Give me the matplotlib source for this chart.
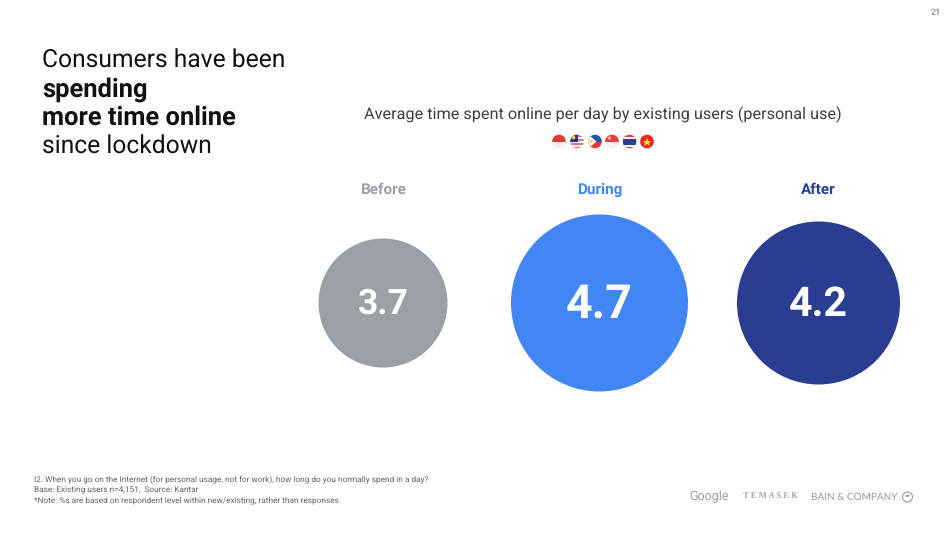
import matplotlib
matplotlib.use('Agg')
import matplotlib.pyplot as plt
from matplotlib.patches import Circle, Rectangle, Wedge, Polygon

plt.rcParams['font.family'] = ['Roboto', 'DejaVu Sans']
plt.rcParams['text.hinting'] = 'no_hinting'

# chart data
periods = ['Before', 'During', 'After']
hours = [3.7, 4.7, 4.2]

title_lines = [('Consumers have been', 'normal'), ('spending', 'bold'),
               ('more time online', 'bold'), ('since lockdown', 'normal')]
chart_title = 'Average time spent online per day by existing users (personal use)'
notes = ['I2. When you go on the Internet (for personal usage, not for work), how long do you normally spend in a day?',
         'Base: Existing users n=4,151,  Source: Kantar',
         '*Note: %s are based on respondent level within new/existing, rather than responses']

# layout in pixels of the slide
centres = [383, 599.5, 818.5]
diameters = [129, 177, 163]
colours = ['#9aa0a6', '#4285f4', '#2b3d92']
value_sizes = [25.5, 33.5, 29.5]

fig = plt.figure(figsize=(9.5, 5.34), dpi=100, facecolor='white')
ax = fig.add_axes([0, 0, 1, 1])
ax.set_xlim(0, 950)
ax.set_ylim(534, 0)
ax.axis('off')

ax.text(936, 13, '21', fontsize=6.5, color='#9aa0a6', fontweight='bold', ha='center', va='center')

# headline
for i, (line, weight) in enumerate(title_lines):
    size = 18.4 if weight == 'bold' else 17.7
    ax.text(42, 67.5 + i * 28.8, line, fontsize=size, fontweight=weight, color='#111111', ha='left', va='baseline')

ax.text(603, 115, chart_title, fontsize=11.66, color='#3c4043', ha='center', va='center')

# bubbles
for i in range(len(periods)):
    ax.add_patch(Circle((centres[i], 303), diameters[i] / 2, facecolor=colours[i], edgecolor='none'))
    ax.text(centres[i], 304.5, str(hours[i]), fontsize=value_sizes[i], fontweight='bold',
            color='white', ha='center', va='center')
    ax.text(centres[i], 190, periods[i], fontsize=11, fontweight='bold',
            color=colours[i], ha='center', va='center')


# little round flags
def flag(cx, draw):
    clip = Circle((cx, 141.5), 6.8, facecolor='#f1f1f1', edgecolor='none')
    ax.add_patch(clip)
    for p in draw(cx):
        ax.add_patch(p)
        p.set_clip_path(clip)


def indonesia(cx):
    return [Rectangle((cx - 7, 134), 14, 7.5, color='#e53935', lw=0)]


def malaysia(cx):
    out = [Rectangle((cx - 7, 135 + j * 4), 14, 2, color='#e57373', lw=0) for j in range(4)]
    out.append(Rectangle((cx - 7, 134), 7.5, 7.5, color='#283593', lw=0))
    out.append(Circle((cx - 3.5, 137.5), 1.8, color='#fdd835', lw=0))
    return out


def philippines(cx):
    return [Rectangle((cx - 7, 134), 14, 7.5, color='#2b4fa8', lw=0),
            Rectangle((cx - 7, 141.5), 14, 7.5, color='#e53935', lw=0),
            Polygon([(cx - 7, 134), (cx + 1.5, 141.5), (cx - 7, 149)], color='#f7f2dc', lw=0),
            Circle((cx - 3.5, 141.5), 1.4, color='#fdd835', lw=0)]


def singapore(cx):
    return [Rectangle((cx - 7, 134), 14, 7.5, color='#ee3b3b', lw=0),
            Circle((cx - 2.5, 138), 1.6, color='#f7b0b0', lw=0)]


def thailand(cx):
    return [Rectangle((cx - 7, 134), 14, 15, color='#e53935', lw=0),
            Rectangle((cx - 7, 136.5), 14, 10, color='#f7f7f7', lw=0),
            Rectangle((cx - 7, 138.5), 14, 6, color='#2f3f8f', lw=0)]


def vietnam(cx):
    return [Rectangle((cx - 7, 134), 14, 15, color='#e8281e', lw=0)]


flag_x = [559, 577, 595, 612, 629.5, 647]
flag_fn = [indonesia, malaysia, philippines, singapore, thailand, vietnam]
for cx, fn in zip(flag_x, flag_fn):
    flag(cx, fn)
ax.plot([647], [141.5], marker='*', markersize=6.5, color='#fdd835', markeredgewidth=0)

# footnotes
for i, note in enumerate(notes):
    ax.text(34, 482 + i * 10, note, fontsize=5.92, color='#5f6368', ha='left', va='baseline')

# partner logos as text
ax.text(709, 496.5, 'Google', fontsize=9, color='#9aa0a6', ha='center', va='center')
ax.text(770, 497, 'T E M A S E K', fontsize=6.2, color='#a8a8a8', family='Liberation Serif',
        fontweight='bold', ha='center', va='center')
ax.text(854.5, 497, 'BAIN & COMPANY', fontsize=7.2, color='#9a9a9a', family='Lato', ha='center', va='center')
ax.add_patch(Circle((907.5, 497), 5, facecolor='none', edgecolor='#9a9a9a', lw=0.8))
ax.add_patch(Wedge((907.5, 497), 2.5, 200, 340, facecolor='#9a9a9a', edgecolor='none'))

fig.savefig('out.png', dpi=100)
